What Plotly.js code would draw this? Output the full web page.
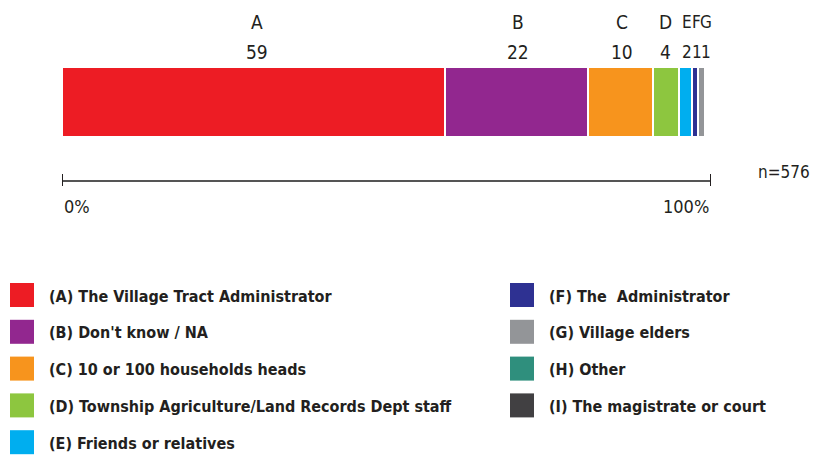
<!DOCTYPE html>
<html>
<head>
<meta charset="utf-8">
<script src="https://cdn.plot.ly/plotly-3.0.1.min.js"></script>
<style>html,body{margin:0;padding:0;background:#fff;}#chart{width:814px;height:455px;}</style>
</head>
<body>
<div id="chart"></div>
<script>
var letters = ["A","B","C","D","E","F","G","H","I"];
var values = [59, 22, 10, 4, 2, 1, 1, 0, 0];
var names = ["(A) The Village Tract Administrator","(B) Don't know / NA","(C) 10 or 100 households heads","(D) Township Agriculture/Land Records Dept staff","(E) Friends or relatives","(F) The  Administrator","(G) Village elders","(H) Other","(I) The magistrate or court"];
var colors = ["#ED1C24","#92278F","#F7941D","#8DC63F","#00AEEF","#2E3192","#939598","#2F8F7D","#414042"];
var tickVals = [0, 100];
var tickText = ["0%","100%"];
var nLabel = "n=576";

var FONT = "'DejaVu Sans Condensed', 'DejaVu Sans', sans-serif";
var W = 814, H = 455;

var traces = [];
for (var i = 0; i < letters.length; i++) {
  traces.push({
    type: "bar", orientation: "h",
    x: [values[i]], y: [0], width: 1,
    name: names[i],
    marker: {color: colors[i], line: {color: "#ffffff", width: 2}},
    showlegend: false, hoverinfo: "none"
  });
}

var annotations = [], shapes = [];
var cum = 0;
var xshifts = [4,2,2,0,2,2,5,0,0];
for (var i = 0; i < letters.length; i++) {
  if (values[i] > 0) {
    var mid = cum + values[i] / 2;
    var fs = values[i] < 3 ? 17 : 19;
    annotations.push({x: mid, y: 1.0 - 22/H, xref: "x", yref: "paper", text: letters[i], showarrow: false,
      xshift: xshifts[i], font: {family: FONT, size: fs, color: "#231F20", stretch: "condensed"}, xanchor: "center", yanchor: "middle"});
    annotations.push({x: mid, y: 1.0 - 52/H, xref: "x", yref: "paper", text: String(values[i]), showarrow: false,
      xshift: xshifts[i], font: {family: FONT, size: fs, color: "#231F20", stretch: "condensed"}, xanchor: "center", yanchor: "middle"});
  }
  cum += values[i];
}
// axis ticks and labels
for (var t = 0; t < tickVals.length; t++) {
  shapes.push({type: "line", xref: "x", yref: "paper", x0: tickVals[t], x1: tickVals[t],
    y0: 1 - 174/H, y1: 1 - 186/H, line: {color: "#231F20", width: 2}});
  annotations.push({x: tickVals[t], y: 1 - 207/H, xref: "x", yref: "paper", text: tickText[t], showarrow: false,
    xanchor: t === 0 ? "left" : "right", yanchor: "middle", font: {family: FONT, size: 18, color: "#231F20", stretch: "condensed"}});
}
annotations.push({x: 812/W, y: 1 - 172/H, xref: "paper", yref: "paper", text: nLabel, showarrow: false,
  xanchor: "right", yanchor: "middle", font: {family: FONT, size: 17, color: "#231F20", stretch: "condensed"}});

// manual two-column legend
var colX = [10, 510];
var rowY0 = 295, rowDY = 36.8;
for (var i = 0; i < letters.length; i++) {
  var col = i < 5 ? 0 : 1;
  var row = i < 5 ? i : i - 5;
  var cy = rowY0 + row * rowDY;
  shapes.push({type: "rect", xref: "paper", yref: "paper",
    x0: colX[col]/W, x1: (colX[col] + 24)/W, y0: 1 - (cy - 12)/H, y1: 1 - (cy + 12)/H,
    fillcolor: colors[i], line: {width: 0}});
  annotations.push({x: (colX[col] + 37)/W, y: 1 - (cy + 1)/H, xref: "paper", yref: "paper", text: "<b>" + names[i] + "</b>",
    showarrow: false, xanchor: "left", yanchor: "middle", font: {family: FONT, size: 16, color: "#231F20", stretch: "condensed"}});
}

var layout = {
  width: W, height: H,
  margin: {l: 0, r: 0, t: 0, b: 0},
  paper_bgcolor: "#fff", plot_bgcolor: "#fff",
  barmode: "stack",
  showlegend: false,
  xaxis: {domain: [62/W, 711/W], range: [0, 100], showgrid: false, zeroline: false,
    showticklabels: false, ticks: "", showline: true, linecolor: "#555555", linewidth: 2, fixedrange: true},
  yaxis: {domain: [1 - 180/H, 1], range: [-1.114, 1.457], showgrid: false, zeroline: false,
    showticklabels: false, ticks: "", showline: false, fixedrange: true},
  annotations: annotations,
  shapes: shapes
};

Plotly.newPlot("chart", traces, layout, {displayModeBar: false, staticPlot: true});
</script>
</body>
</html>
